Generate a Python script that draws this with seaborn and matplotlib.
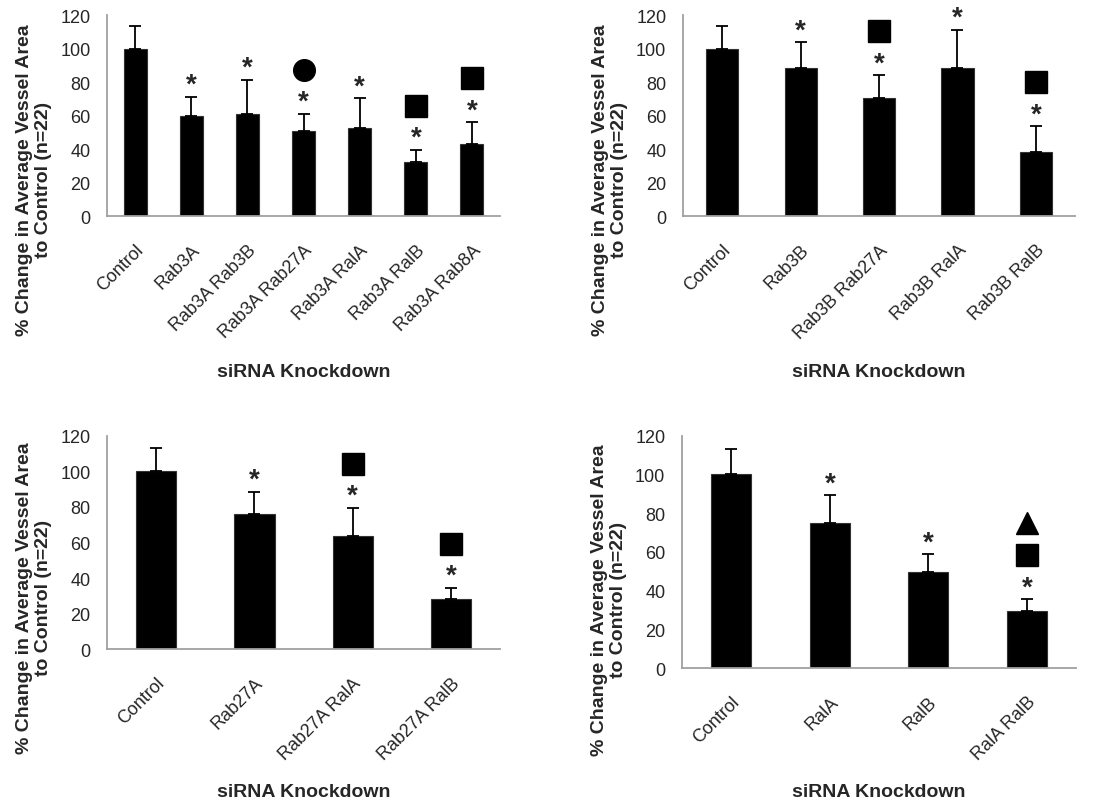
import numpy as np
import pandas as pd
import matplotlib
matplotlib.use('Agg')
import matplotlib.pyplot as plt
import matplotlib.transforms as mtransforms
import seaborn as sns

# Данные: средние значения, верхняя граница ошибки, значимость
cats_a = ['Control', 'Rab3A', 'Rab3A Rab3B', 'Rab3A Rab27A', 'Rab3A RalA', 'Rab3A RalB', 'Rab3A Rab8A']
mean_a = [100, 59.5, 61, 50.5, 52.5, 32.3, 43.3]
top_a = [113.5, 71.3, 81.3, 61, 70.2, 39.5, 56]
star_a = [False, True, True, True, True, True, True]
sym_a = [[], [], [], ['o'], [], ['s'], ['s']]

cats_b = ['Control', 'Rab3B', 'Rab3B Rab27A', 'Rab3B RalA', 'Rab3B RalB']
mean_b = [100, 88.2, 70.3, 88.2, 38.5]
top_b = [113.5, 103.7, 84, 111.3, 53.5]
star_b = [False, True, True, True, True]
sym_b = [[], [], ['s'], [], ['s']]

cats_c = ['Control', 'Rab27A', 'Rab27A RalA', 'Rab27A RalB']
mean_c = [100.3, 75.8, 63.8, 28.2]
top_c = [113.2, 88.4, 79.4, 34.6]
star_c = [False, True, True, True]
sym_c = [[], [], ['s'], ['s']]

cats_d = ['Control', 'RalA', 'RalB', 'RalA RalB']
mean_d = [100.3, 75, 49.7, 29.3]
top_d = [113.3, 89.3, 58.8, 35.5]
star_d = [False, True, True, True]
sym_d = [[], [], [], ['s', '^']]

sns.set_style('white')
plt.rcParams['font.family'] = ['Liberation Sans', 'DejaVu Sans']

fig = plt.figure(figsize=(10.99, 8.04), dpi=100)

# [left, bottom, width, height], положение подписей осей
axes_pos = [
    [0.0974, 0.730, 0.3576, 0.250],
    [0.6215, 0.730, 0.3567, 0.250],
    [0.0974, 0.1915, 0.3576, 0.265],
    [0.6206, 0.1679, 0.3585, 0.2886],
]
ylab_y = [0.184, 0.184, 0.244, 0.297]
xlab_y = [-0.732, -0.732, -0.629, -0.495]

panels = [
    (cats_a, mean_a, top_a, star_a, sym_a),
    (cats_b, mean_b, top_b, star_b, sym_b),
    (cats_c, mean_c, top_c, star_c, sym_c),
    (cats_d, mean_d, top_d, star_d, sym_d),
]

axis_gray = '#a0a0a0'
sym_gap = [44, 76]  # пиксели над верхом ошибки

for j, (pos, (cats, means, tops, stars, syms)) in enumerate(zip(axes_pos, panels)):
    ax = fig.add_axes(pos)
    df = pd.DataFrame({'group': cats, 'value': means})
    n = len(cats)
    sns.barplot(data=df, x='group', y='value', color='black', width=0.41,
                saturation=1, errorbar=None, ax=ax, edgecolor='#333333', linewidth=0.8)
    err_up = np.array(tops) - np.array(means)
    ax.errorbar(np.arange(n), means, yerr=[np.zeros(n), err_up], fmt='none',
                ecolor='black', elinewidth=1.3, capsize=4.5, capthick=1.3)

    # звездочки и символы значимости
    for i in range(n):
        if stars[i]:
            tr = mtransforms.offset_copy(ax.transData, fig=fig, x=0, y=5, units='dots')
            ax.text(i, tops[i], '*', transform=tr, ha='center', va='baseline',
                    fontsize=20, fontweight='bold', clip_on=False)
        for k, m in enumerate(syms[i]):
            tr = mtransforms.offset_copy(ax.transData, fig=fig, x=0, y=sym_gap[k], units='dots')
            ax.plot(i, tops[i], marker=m, markersize=15.6, color='black',
                    transform=tr, clip_on=False, linestyle='none')

    ax.set_xlim(-0.5, n - 0.5)
    ax.set_ylim(0, 120)
    ax.set_yticks(np.arange(0, 121, 20))
    ax.set_xticks(np.arange(n))
    ax.set_xticklabels(cats, rotation=45, ha='right', rotation_mode='anchor', fontsize=13)
    ax.set_xticks(np.arange(n + 1) - 0.5, minor=True)
    ax.tick_params(axis='x', which='major', length=0, pad=18)
    ax.tick_params(axis='x', which='minor', length=5, width=1.2, color=axis_gray, direction='out')
    ax.tick_params(axis='y', length=4, width=1.2, color=axis_gray, direction='out', labelsize=13, pad=8)
    for s in ['top', 'right']:
        ax.spines[s].set_visible(False)
    for s in ['left', 'bottom']:
        ax.spines[s].set_color(axis_gray)
        ax.spines[s].set_linewidth(1.3)
    ax.set_xlabel('siRNA Knockdown', fontsize=14, fontweight='bold')
    ax.set_ylabel('% Change in Average Vessel Area\nto Control (n=22)', fontsize=14,
                  fontweight='bold', linespacing=1.15)
    ax.xaxis.set_label_coords(0.5, xlab_y[j])
    ax.yaxis.set_label_coords(-0.14, ylab_y[j])

fig.savefig('out.png', dpi=100)
